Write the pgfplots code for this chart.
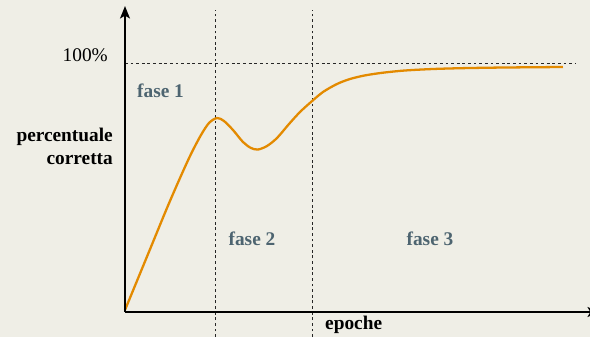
\documentclass[border=0pt]{standalone}
\usepackage{pgfplots}
\pgfplotsset{compat=1.18}
\usepackage{fontspec}
\setmainfont{Liberation Serif}
\usetikzlibrary{arrows.meta}
\definecolor{bgbeige}{HTML}{EFEEE6}
\definecolor{curveorange}{HTML}{E38A00}
\definecolor{fasegrey}{HTML}{4D6470}

\begin{document}
\begin{tikzpicture}
\begin{axis}[
  scale only axis, width=11.8cm, height=6.74cm,
  xmin=-125, xmax=465, ymin=-25, ymax=312,
  axis lines=none, clip=false]
% background
\fill[bgbeige] (axis cs:-125,-25) rectangle (axis cs:465,312);
% guide lines
\draw[black!85, dash pattern=on 1.6pt off 1.6pt, line width=0.5pt] (axis cs:90,-25) -- (axis cs:90,302);
\draw[black!85, dash pattern=on 1.6pt off 1.6pt, line width=0.5pt] (axis cs:187,-25) -- (axis cs:187,302);
\draw[black!85, dash pattern=on 1.6pt off 1.6pt, line width=0.5pt] (axis cs:0,249) -- (axis cs:450,249);
% curve
\addplot[curveorange, line width=1.3pt, smooth, tension=0.5] coordinates {
  (0,2) (14,36) (28,70) (42,104) (55,134) (66,158) (76,177) (84,189) (92,194)
  (99,191) (108,182) (118,170) (126,164) (133,162.5) (142,166) (152,174)
  (164,188) (175,200) (186,210) (198,220) (212,228) (225,233) (240,236.6)
  (258,239.3) (280,241.5) (308,243) (340,243.9) (380,244.5) (438,245)};
% axes
\draw[line width=1.3pt, -{Stealth[length=7pt,width=5.5pt,inset=1.5pt]}] (axis cs:0,0) -- (axis cs:0,306);
\draw[line width=1.3pt, -{Stealth[length=7pt,width=5.5pt,inset=1.5pt]}] (axis cs:0,0) -- (axis cs:475,0);
% labels
\node[anchor=east, font=\fontsize{11}{12}\selectfont] at (axis cs:-11,257) {100\%};
\node[anchor=east, align=right, font=\fontsize{11}{13}\selectfont\bfseries] at (axis cs:-6,166) {percentuale\\corretta};
\node[anchor=west, font=\fontsize{11}{12}\selectfont\bfseries, text=fasegrey] at (axis cs:6,221) {fase 1};
\node[font=\fontsize{11}{12}\selectfont\bfseries, text=fasegrey] at (axis cs:127,73) {fase 2};
\node[font=\fontsize{11}{12}\selectfont\bfseries, text=fasegrey] at (axis cs:305,73) {fase 3};
\node[anchor=west, font=\fontsize{11}{12}\selectfont\bfseries] at (axis cs:194,-13) {epoche};
\end{axis}
\pgfresetboundingbox
\path[use as bounding box] (0,0) rectangle (11.8cm,6.74cm);
\end{tikzpicture}
\end{document}
